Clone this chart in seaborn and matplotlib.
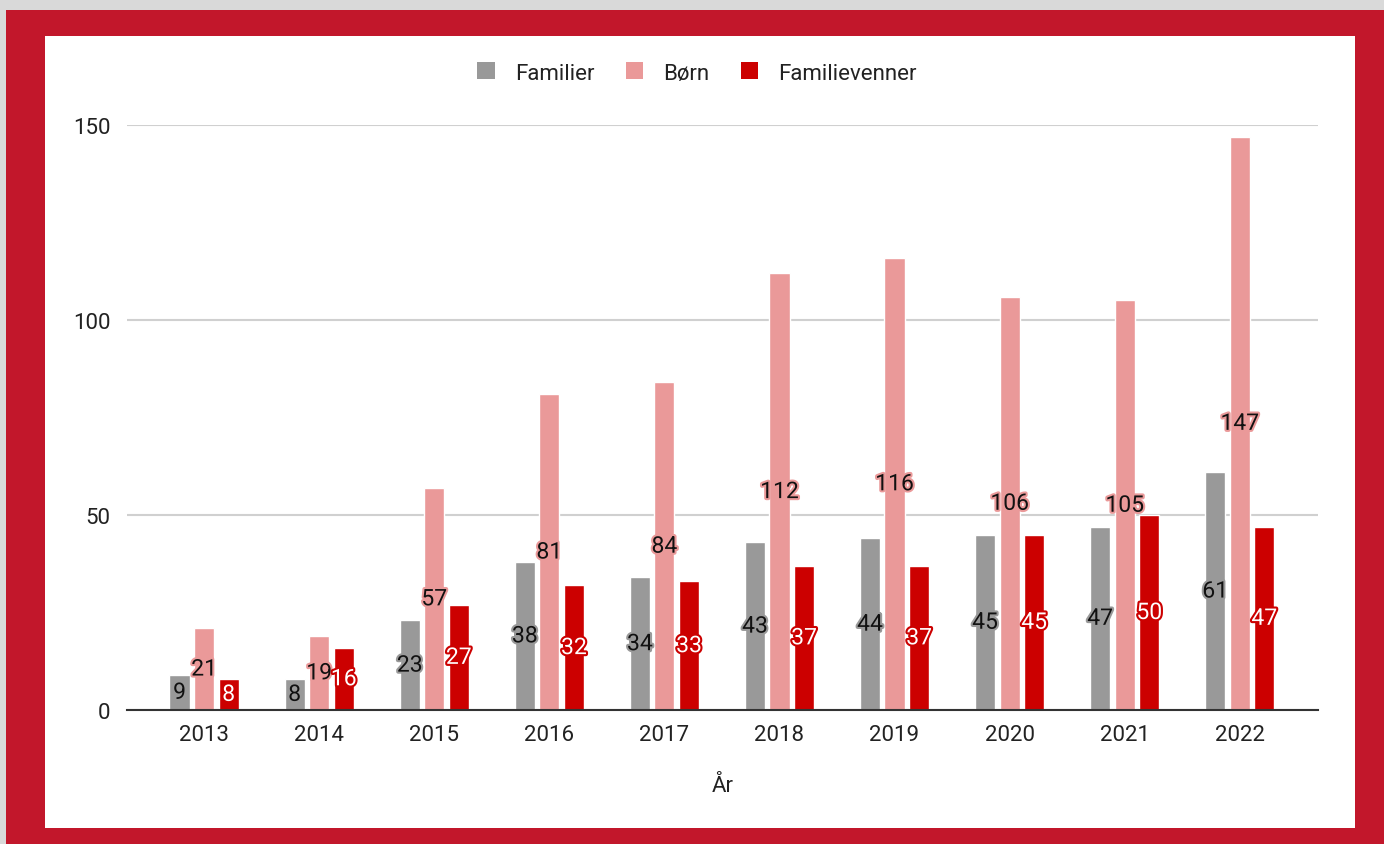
import matplotlib
matplotlib.use("Agg")
import matplotlib.pyplot as plt
import matplotlib.patheffects as pe
from matplotlib.patches import Rectangle
import seaborn as sns
import pandas as pd

years = ["2013", "2014", "2015", "2016", "2017", "2018", "2019", "2020", "2021", "2022"]
familier = [9, 8, 23, 38, 34, 43, 44, 45, 47, 61]
boern = [21, 19, 57, 81, 84, 112, 116, 106, 105, 147]
familievenner = [8, 16, 27, 32, 33, 37, 37, 45, 50, 47]
series_names = ["Familier", "Børn", "Familievenner"]
colors = ["#999999", "#EA9999", "#CC0000"]

rows = []
for name, vals in zip(series_names, [familier, boern, familievenner]):
    for y, v in zip(years, vals):
        rows.append({"År": y, "Serie": name, "Værdi": v})
df = pd.DataFrame(rows)

sns.set_theme(style="white")
plt.rcParams["font.family"] = ["Roboto", "DejaVu Sans"]

fig = plt.figure(figsize=(13.84, 8.45), dpi=100)
fig.patch.set_facecolor("#D9D9D9")
fig.patches.append(Rectangle((6/1384, 0), 1, (845-11)/845, transform=fig.transFigure,
                             facecolor="#C2172B", edgecolor="none", zorder=-10))
fig.patches.append(Rectangle((45/1384, 1-829/845), 1310/1384, 792/845, transform=fig.transFigure,
                             facecolor="white", edgecolor="none", zorder=-9))

ax = fig.add_axes([127/1384, 1-711/845, (1318-127)/1384, (711-126)/845])
ax.set_zorder(2)
ax.set_facecolor("none")

sns.barplot(data=df, x="År", y="Værdi", hue="Serie", palette=colors, width=0.64, gap=0.18,
            ax=ax, legend=False, saturation=1, zorder=3)

ax.set_ylim(0, 150)
ax.set_xlim(-0.67, 9.68)
ax.set_yticks([0, 50, 100, 150])
ax.yaxis.grid(True, color="#D0D0D0", linewidth=1.5, zorder=0)
ax.set_axisbelow(True)
for s in ["top", "right", "left"]:
    ax.spines[s].set_visible(False)
ax.spines["bottom"].set_color("#333333")
ax.spines["bottom"].set_linewidth(1.5)
ax.spines["bottom"].set_zorder(5)
ax.tick_params(axis="both", length=0, labelsize=16, labelcolor="#222222")
ax.tick_params(axis="x", pad=10)
ax.tick_params(axis="y", pad=12)
ax.set_ylabel("")
ax.set_xlabel("År", fontsize=16, color="#222222", labelpad=22)

text_colors = ["#111111", "#111111", "white"]
for cont, tc, bc in zip(ax.containers, text_colors, colors):
    labels = ax.bar_label(cont, label_type="center", fontsize=16.5, color=tc, zorder=6)
    for t in labels:
        t.set_path_effects([pe.withStroke(linewidth=3, foreground=bc)])

handles = [Rectangle((0, 0), 1, 1, facecolor=c, edgecolor="none") for c in colors]
fig.legend(handles, series_names, loc="center", bbox_to_anchor=(697/1384, 1-74/845), ncol=3,
           frameon=False, fontsize=16, handlelength=0.8, handleheight=0.8, columnspacing=1.4,
           handletextpad=0.9, labelcolor="#222222")

fig.savefig("out.png", dpi=100, facecolor=fig.get_facecolor())
